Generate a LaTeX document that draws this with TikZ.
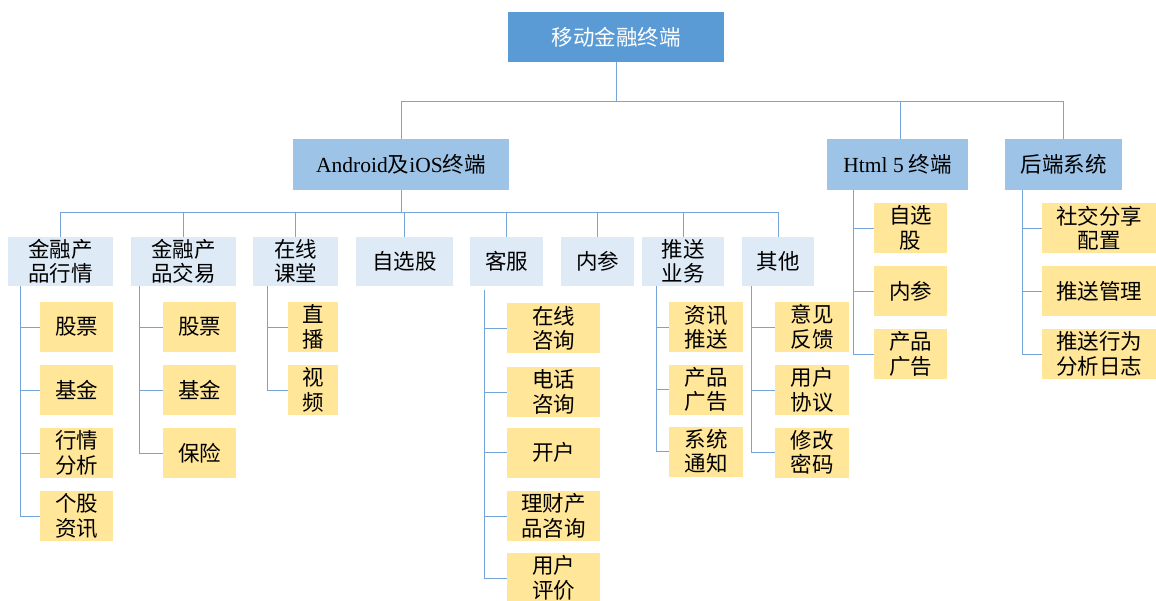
\documentclass[tikz,border=0pt]{standalone}
\usepackage{fontspec}
\setmainfont{Noto Sans CJK SC}
\newfontfamily\tnr{Liberation Serif}

\definecolor{bleuracine}{RGB}{91,155,213}
\definecolor{bleumoyen}{RGB}{157,195,230}
\definecolor{bleuclair}{RGB}{222,235,247}
\definecolor{jaune}{RGB}{255,230,153}
\definecolor{trait}{RGB}{116,164,216}

\tikzset{
  boite/.style={rectangle, inner sep=0pt, align=center, font=\fontsize{21.5}{24.5}\selectfont},
  racine/.style={boite, fill=bleuracine, text=white, minimum width=216pt, minimum height=50pt},
  niveaua/.style={boite, fill=bleumoyen, minimum height=51pt},
  niveaub/.style={boite, fill=bleuclair, minimum height=49pt},
  feuille/.style={boite, fill=jaune, minimum height=50pt},
  lien/.style={draw=trait, line width=0.9pt}
}

\begin{document}
\begin{tikzpicture}[x=1pt, y=-1pt]
    \useasboundingbox (0,0) rectangle (1156,601);

    % Racine et premier niveau
    \node[racine] (root) at (616,37) {移动金融终端};
    \node[niveaua, minimum width=216pt] (app) at (401,164.5) {{\tnr Android}及{\tnr iOS}终端};
    \node[niveaua, minimum width=141pt] (html) at (897.5,164.5) {{\tnr Html 5} 终端};
    \node[niveaua, minimum width=117pt] (back) at (1063.5,164.5) {后端系统};

    \draw[lien] (root.south) -- ++(0,39) -| (app.north);
    \draw[lien] (root.south) -- ++(0,39) -| ([xshift=2.5pt]html.north);
    \draw[lien] (root.south) -- ++(0,39) -| (back.north);

    % Modules de l'application
    \node[niveaub, minimum width=105pt] (hq) at (60.5,261.5) {金融产\\品行情};
    \node[niveaub, minimum width=105pt] (jy) at (183.5,261.5) {金融产\\品交易};
    \node[niveaub, minimum width=85pt] (kt) at (295.5,261.5) {在线\\课堂};
    \node[niveaub, minimum width=97pt] (zx) at (404.5,261.5) {自选股};
    \node[niveaub, minimum width=73pt] (kf) at (506.5,261.5) {客服};
    \node[niveaub, minimum width=73pt] (nc) at (597.5,261.5) {内参};
    \node[niveaub, minimum width=82pt] (ts) at (683,261.5) {推送\\业务};
    \node[niveaub, minimum width=72pt] (qt) at (778,261.5) {其他};

    \foreach \m in {hq,jy,kt,zx,kf,nc,ts,qt}
        \draw[lien] (app.south) -- ++(0,22) -| (\m.north);

    %金融产品行情
    \node[feuille, minimum width=73pt] (hq1) at (76.5,327) {股票};
    \node[feuille, minimum width=73pt] (hq2) at (76.5,390) {基金};
    \node[feuille, minimum width=73pt] (hq3) at (76.5,453) {行情\\分析};
    \node[feuille, minimum width=73pt] (hq4) at (76.5,516) {个股\\资讯};
    \coordinate (hqs) at (20,286);
    \draw[lien] (hqs) |- (hq1.west) (hqs) |- (hq2.west) (hqs) |- (hq3.west) (hqs) |- (hq4.west);

    %金融产品交易
    \node[feuille, minimum width=73pt] (jy1) at (199.5,327) {股票};
    \node[feuille, minimum width=73pt] (jy2) at (199.5,390) {基金};
    \node[feuille, minimum width=73pt] (jy3) at (199.5,453) {保险};
    \coordinate (jys) at (139,286);
    \draw[lien] (jys) |- (jy1.west) (jys) |- (jy2.west) (jys) |- (jy3.west);

    % 在线课堂
    \node[feuille, minimum width=50pt] (kt1) at (313,327) {直\\播};
    \node[feuille, minimum width=50pt] (kt2) at (313,390) {视\\频};
    \coordinate (kts) at (267,286);
    \draw[lien] (kts) |- (kt1.west) (kts) |- (kt2.west);

    % 客服
    \node[feuille, minimum width=93pt] (kf1) at (553.5,328.5) {在线\\咨询};
    \node[feuille, minimum width=93pt] (kf2) at (553.5,392) {电话\\咨询};
    \node[feuille, minimum width=93pt] (kf3) at (553.5,452.5) {开户};
    \node[feuille, minimum width=93pt] (kf4) at (553.5,516) {理财产\\品咨询};
    \node[feuille, minimum width=93pt] (kf5) at (553.5,578) {用户\\评价};
    \coordinate (kfs) at (484,290);
    \draw[lien] (kfs) |- (kf1.west) (kfs) |- (kf2.west) (kfs) |- (kf3.west) (kfs) |- (kf4.west) (kfs) |- (kf5.west);

    % 推送业务
    \node[feuille, minimum width=74pt] (ts1) at (706,327.5) {资讯\\推送};
    \node[feuille, minimum width=74pt] (ts2) at (706,389.5) {产品\\广告};
    \node[feuille, minimum width=74pt] (ts3) at (706,451.5) {系统\\通知};
    \coordinate (tss) at (656,286);
    \draw[lien] (tss) |- (ts1.west) (tss) |- (ts2.west) (tss) |- (ts3.west);

    % 其他
    \node[feuille, minimum width=74pt] (qt1) at (812,327) {意见\\反馈};
    \node[feuille, minimum width=74pt] (qt2) at (812,390) {用户\\协议};
    \node[feuille, minimum width=74pt] (qt3) at (812,452.5) {修改\\密码};
    \coordinate (qts) at (751,286);
    \draw[lien] (qts) |- (qt1.west) (qts) |- (qt2.west) (qts) |- (qt3.west);

    % Html 5
    \node[feuille, minimum width=73pt] (ht1) at (910.5,228) {自选\\股};
    \node[feuille, minimum width=73pt] (ht2) at (910.5,291) {内参};
    \node[feuille, minimum width=73pt] (ht3) at (910.5,354) {产品\\广告};
    \coordinate (hts) at (853,190);
    \draw[lien] (hts) |- (ht1.west) (hts) |- (ht2.west) (hts) |- (ht3.west);

    % Back-end
    \node[feuille, minimum width=114pt] (bk1) at (1099,228) {社交分享\\配置};
    \node[feuille, minimum width=114pt] (bk2) at (1099,291) {推送管理};
    \node[feuille, minimum width=114pt] (bk3) at (1099,354) {推送行为\\分析日志};
    \coordinate (bks) at (1022,190);
    \draw[lien] (bks) |- (bk1.west) (bks) |- (bk2.west) (bks) |- (bk3.west);
\end{tikzpicture}
\end{document}
